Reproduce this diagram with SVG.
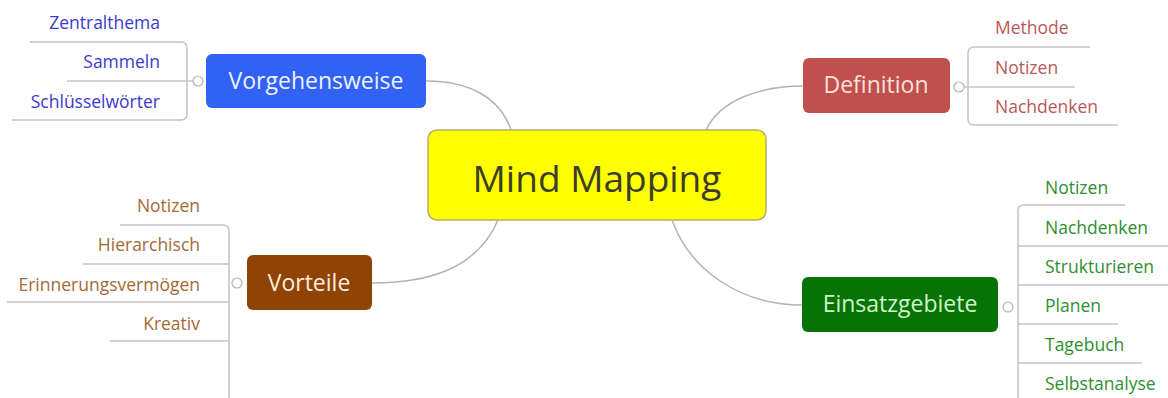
<svg xmlns="http://www.w3.org/2000/svg" width="1168" height="398" viewBox="0 0 1168 398">
<style>
text{font-family:"Open Sans","Noto Sans","DejaVu Sans",sans-serif}
.conn{fill:none;stroke:#b4b4b4;stroke-width:1.5}
.tree{fill:none;stroke:#c4c4c4;stroke-width:1.5}
.knob{fill:#fff;stroke:#b4b4b4;stroke-width:1.2}
.main{font-size:37px;fill:#3c3c2c;text-anchor:middle}
.br{font-size:23px;text-anchor:middle}
.leaf{font-size:17.5px}
.blue{fill:#3a3ad0}
.red{fill:#b8585a}
.brown{fill:#a36a36}
.green{fill:#2f8f2f}
</style>
<rect width="1168" height="398" fill="#fff"/>
<g id="connectors">
<path class="conn" d="M426,81 C470,81 500,98 511,130"/>
<path class="conn" d="M803,86 C760,86 720,100 706,130"/>
<path class="conn" d="M372,283 C440,283 480,262 498,220"/>
<path class="conn" d="M672,220 C690,270 740,305 802,305"/>
<path class="tree" d="M30,42 H181 Q187,42 187,48 V114 Q187,120 181,120 H12"/>
<path class="tree" d="M67,81 H193"/>
<path class="tree" d="M1090,47 H974 Q968,47 968,53 V119 Q968,125 974,125 H1118"/>
<path class="tree" d="M964,87 H1075"/>
<path class="tree" d="M120,225 H223 Q229,225 229,231 V398"/>
<path class="tree" d="M83,264 H229"/>
<path class="tree" d="M7,302 H229"/>
<path class="tree" d="M110,341 H229"/>
<path class="tree" d="M1125,205 H1024 Q1018,205 1018,211 V398"/>
<path class="tree" d="M1018,246 H1168"/>
<path class="tree" d="M1018,285 H1168"/>
<path class="tree" d="M1018,324 H1118"/>
<path class="tree" d="M1018,363 H1142"/>
</g>
<g id="central">
<rect x="428" y="130" width="338" height="90" rx="9" fill="#ffff00" stroke="#b5ad6a" stroke-width="1.5"/>
<text class="main" x="597" y="192">Mind Mapping</text>
</g>
<g id="vorgehensweise">
<rect x="206" y="54" width="220" height="54" rx="6" fill="#3162f5"/>
<text class="br" x="316" y="89" fill="#eef2ff">Vorgehensweise</text>
<circle class="knob" cx="198" cy="81" r="5"/>
</g>
<g id="vg-zentralthema"><text class="leaf blue" x="160" y="29" text-anchor="end">Zentralthema</text></g>
<g id="vg-sammeln"><text class="leaf blue" x="160" y="68" text-anchor="end">Sammeln</text></g>
<g id="vg-schluesselwoerter"><text class="leaf blue" x="160" y="108" text-anchor="end">Schlüsselwörter</text></g>
<g id="definition">
<rect x="803" y="58" width="147" height="55" rx="6" fill="#c0504d"/>
<text class="br" x="876" y="93" fill="#ffe0dc">Definition</text>
<circle class="knob" cx="959" cy="87" r="5"/>
</g>
<g id="def-methode"><text class="leaf red" x="995" y="34">Methode</text></g>
<g id="def-notizen"><text class="leaf red" x="995" y="74">Notizen</text></g>
<g id="def-nachdenken"><text class="leaf red" x="995" y="113">Nachdenken</text></g>
<g id="vorteile">
<rect x="247" y="255" width="125" height="55" rx="6" fill="#8f4304"/>
<text class="br" x="309" y="291" fill="#ffeedd">Vorteile</text>
<circle class="knob" cx="237" cy="283" r="5"/>
</g>
<g id="vt-notizen"><text class="leaf brown" x="200" y="212" text-anchor="end">Notizen</text></g>
<g id="vt-hierarchisch"><text class="leaf brown" x="200" y="251" text-anchor="end">Hierarchisch</text></g>
<g id="vt-erinnerungsvermoegen"><text class="leaf brown" x="200" y="291" text-anchor="end">Erinnerungsvermögen</text></g>
<g id="vt-kreativ"><text class="leaf brown" x="200" y="330" text-anchor="end">Kreativ</text></g>
<g id="einsatzgebiete">
<rect x="802" y="277" width="196" height="55" rx="6" fill="#067306"/>
<text class="br" x="900" y="312" fill="#d0f5c8">Einsatzgebiete</text>
<circle class="knob" cx="1008" cy="307" r="5"/>
</g>
<g id="eg-notizen"><text class="leaf green" x="1045" y="194">Notizen</text></g>
<g id="eg-nachdenken"><text class="leaf green" x="1045" y="234">Nachdenken</text></g>
<g id="eg-strukturieren"><text class="leaf green" x="1045" y="273">Strukturieren</text></g>
<g id="eg-planen"><text class="leaf green" x="1045" y="312">Planen</text></g>
<g id="eg-tagebuch"><text class="leaf green" x="1045" y="351">Tagebuch</text></g>
<g id="eg-selbstanalyse"><text class="leaf green" x="1045" y="390">Selbstanalyse</text></g>
</svg>
